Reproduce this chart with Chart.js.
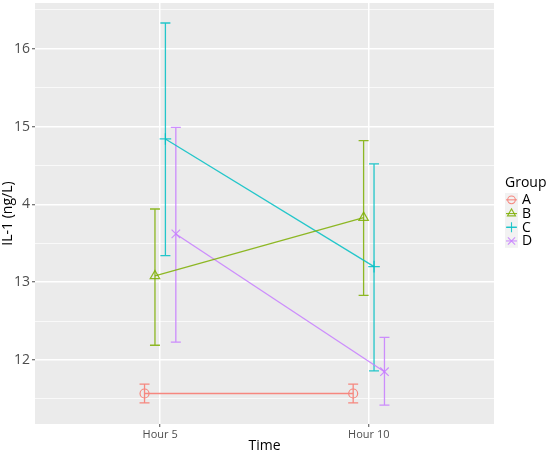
<!DOCTYPE html>
<html>
<head>
<meta charset="utf-8">
<script src="https://cdn.jsdelivr.net/npm/chart.js@4/dist/chart.umd.min.js"></script>
<style>
html,body{margin:0;padding:0;background:#fff;}
#wrap{width:550px;height:456px;position:relative;}
</style>
</head>
<body>
<div id="wrap"><canvas id="c" width="550" height="456"></canvas></div>
<script>
// ---- data ----
const times = ['Hour 5', 'Hour 10'];
const groups = ['A', 'B', 'C', 'D'];
const meanA = [11.57, 11.57];
const lowA  = [11.45, 11.45];
const highA = [11.69, 11.69];
const meanB = [13.08, 13.83];
const lowB  = [12.19, 12.83];
const highB = [13.94, 14.82];
const meanC = [14.84, 13.20];
const lowC  = [13.34, 11.86];
const highC = [16.33, 14.52];
const meanD = [13.62, 11.85];
const lowD  = [12.23, 11.42];
const highD = [14.99, 12.29];
const yTickValues = [12, 13, 14, 15, 16];
const yTickLabels = ['12', '13', '4', '15', '16'];

// ---- styling ----
const colors = ['#F6877F', 'rgba(124,174,0,0.85)', 'rgba(0,191,196,0.85)', 'rgba(199,124,255,0.85)'];
const shapes = ['circle', 'triangle', 'cross', 'crossRot'];
const radii = [4.5, 5.5, 5.8, 6];
const dodge = [-0.075, -0.025, 0.025, 0.075];
const means = [meanA, meanB, meanC, meanD];
const lows = [lowA, lowB, lowC, lowD];
const highs = [highA, highB, highC, highD];
const FONT = "'Open Sans', 'Noto Sans', sans-serif";
const isMajor = (c) => c.tick && Number.isInteger(Math.round(c.tick.value * 1000) / 1000);

const datasets = groups.map((g, i) => ({
  label: g,
  data: times.map((t, j) => ({x: j + 1 + dodge[i], y: means[i][j]})),
  borderColor: colors[i],
  backgroundColor: 'rgba(0,0,0,0)',
  borderWidth: 1.3,
  pointStyle: shapes[i],
  pointRadius: radii[i],
  pointBorderWidth: 1.2,
  pointBorderColor: colors[i],
  pointBackgroundColor: 'rgba(0,0,0,0)',
  tension: 0
}));

const panelBg = {
  id: 'panelBg',
  beforeDraw(chart) {
    const {ctx, chartArea: a} = chart;
    ctx.save();
    ctx.fillStyle = '#EBEBEB';
    ctx.fillRect(a.left, a.top, a.right - a.left, a.bottom - a.top);
    ctx.restore();
  }
};

const errorBars = {
  id: 'errorBars',
  beforeDatasetsDraw(chart) {
    const {ctx, scales: {x, y}} = chart;
    ctx.save();
    ctx.lineWidth = 1.3;
    groups.forEach((g, i) => {
      ctx.strokeStyle = colors[i];
      times.forEach((t, j) => {
        const px = x.getPixelForValue(j + 1 + dodge[i]);
        const yl = y.getPixelForValue(lows[i][j]);
        const yh = y.getPixelForValue(highs[i][j]);
        ctx.beginPath();
        ctx.moveTo(px, yl); ctx.lineTo(px, yh);
        ctx.moveTo(px - 5, yl); ctx.lineTo(px + 5, yl);
        ctx.moveTo(px - 5, yh); ctx.lineTo(px + 5, yh);
        ctx.stroke();
      });
    });
    ctx.restore();
  }
};

const legendPlugin = {
  id: 'customLegend',
  afterDraw(chart) {
    const ctx = chart.ctx;
    ctx.save();
    ctx.fillStyle = '#000';
    ctx.font = '14px ' + FONT;
    ctx.textBaseline = 'middle';
    ctx.textAlign = 'left';
    ctx.fillText('Group', 505, 183);
    const x0 = 505, w = 13, y0 = 193, h = 13.7;
    ctx.fillStyle = '#F2F2F2';
    ctx.fillRect(x0, y0, w, h * groups.length);
    groups.forEach((g, i) => {
      const cy = y0 + h * i + h / 2;
      const cx = x0 + w / 2;
      ctx.strokeStyle = colors[i];
      ctx.lineWidth = 1.1;
      ctx.beginPath();
      ctx.moveTo(x0 + 1, cy); ctx.lineTo(x0 + w - 1, cy);
      ctx.stroke();
      ctx.fillStyle = 'rgba(0,0,0,0)';
      Chart.helpers.drawPoint(ctx, {pointStyle: shapes[i], radius: radii[i] * 0.85, borderWidth: 1.1, rotation: 0}, cx, cy);
      ctx.fillStyle = '#000';
      ctx.font = '14px ' + FONT;
      ctx.fillText(g, 522, cy + 0.5);
    });
    ctx.restore();
  }
};

new Chart(document.getElementById('c'), {
  type: 'line',
  data: {datasets},
  plugins: [panelBg, errorBars, legendPlugin],
  options: {
    responsive: false,
    animation: false,
    layout: {autoPadding: false, padding: {top: 3, right: 56, left: 0, bottom: 0}},
    plugins: {legend: {display: false}, tooltip: {enabled: false}},
    scales: {
      x: {
        type: 'linear',
        min: 0.4, max: 2.6,
        afterBuildTicks(scale) { scale.ticks = times.map((t, j) => ({value: j + 1})); },
        afterFit(scale) { scale.height = 32; scale.paddingLeft = 0; scale.paddingRight = 0; },
        border: {display: false},
        grid: {color: '#FFFFFF', lineWidth: 1.5, tickLength: 3, tickColor: '#4D4D4D', tickWidth: 1},
        ticks: {
          padding: 1,
          color: '#4D4D4D',
          font: {family: FONT, size: 11},
          maxRotation: 0,
          callback: (v) => times[Math.round(v) - 1] || ''
        },
        title: {display: true, text: 'Time', color: '#000', font: {family: FONT, size: 14}, padding: {top: 0, bottom: 2}}
      },
      y: {
        type: 'linear',
        min: 11.178, max: 16.587,
        afterBuildTicks(scale) {
          const t = [];
          for (let k = 0; k < yTickValues.length; k++) {
            t.push({value: yTickValues[k] - 0.5});
            t.push({value: yTickValues[k]});
          }
          t.push({value: yTickValues[yTickValues.length - 1] + 0.5});
          scale.ticks = t;
        },
        afterFit(scale) { scale.width = 35; scale.paddingTop = 0; scale.paddingBottom = 0; },
        border: {display: false},
        grid: {
          color: '#FFFFFF',
          lineWidth: (c) => isMajor(c) ? 1.5 : 0.7,
          tickLength: 3,
          tickColor: (c) => isMajor(c) ? '#4D4D4D' : 'rgba(0,0,0,0)',
          tickWidth: 1
        },
        ticks: {
          padding: 2,
          color: '#4D4D4D',
          font: (c) => isMajor(c) ? {family: FONT, size: 14} : {family: FONT, size: 1},
          callback: (v) => {
            const k = yTickValues.indexOf(v);
            return k >= 0 ? yTickLabels[k] : '';
          }
        },
        title: {display: true, text: 'IL-1 (ng/L)', color: '#000', font: {family: FONT, size: 14}, padding: {top: 0, bottom: 0}}
      }
    }
  }
});
</script>
</body>
</html>
